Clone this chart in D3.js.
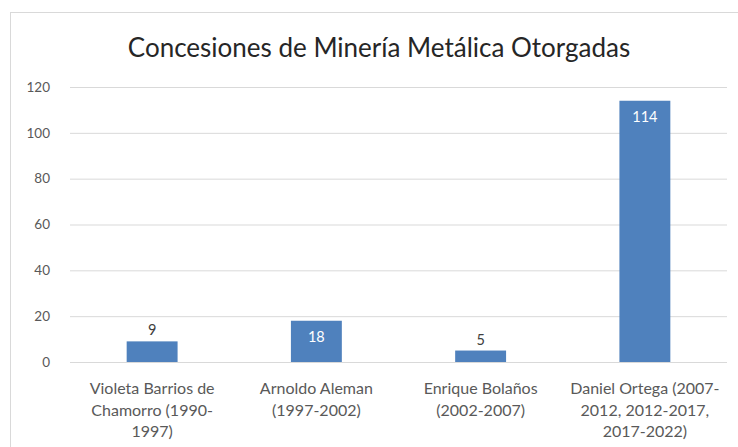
<!DOCTYPE html>
<html>
<head>
<meta charset="utf-8">
<script src="https://cdn.jsdelivr.net/npm/d3@7"></script>
<style>
  body { margin: 0; background: #fff; }
  text { font-family: Lato, "Open Sans", sans-serif; }
</style>
</head>
<body>
<div id="chart"></div>
<script>
// Chart data
const categories = [
    ["Violeta Barrios de", "Chamorro (1990-", "1997)"],
    ["Arnoldo Aleman", "(1997-2002)"],
    ["Enrique Bolaños", "(2002-2007)"],
    ["Daniel Ortega (2007-", "2012, 2012-2017,", "2017-2022)"]
];
const concesiones = [9, 18, 5, 114];
const yTicks = [0, 20, 40, 60, 80, 100, 120];
const title = "Concesiones de Minería Metálica Otorgadas";

const W = 738, H = 447;
const margin = { top: 87, right: 11, bottom: 85, left: 70 };
const width = W - margin.left - margin.right,
      height = H - margin.top - margin.bottom;

const svg = d3.select("#chart").append("svg")
    .attr("width", W)
    .attr("height", H);

// chart area border
svg.append("rect")
    .attr("x", 10.5).attr("y", 12.5)
    .attr("width", W + 20).attr("height", H + 20)
    .attr("fill", "none")
    .attr("stroke", "#d9d9d9");

svg.append("text")
    .attr("x", 379)
    .attr("y", 57)
    .attr("text-anchor", "middle")
    .style("font-size", "26px")
    .style("fill", "#262626")
    .text(title);

const g = svg.append("g")
    .attr("transform", `translate(${margin.left}, ${margin.top})`);

const xScale = d3.scaleBand()
    .domain(categories.map((c, i) => i))
    .range([0, width])
    .paddingInner(0.69)
    .paddingOuter(0.345);

const yScale = d3.scaleLinear()
    .domain([0, 120])
    .range([height, 0]);

// gridlines + y labels
const yAxis = d3.axisLeft(yScale).tickValues(yTicks).tickSize(-width).tickPadding(20);
g.append("g")
    .call(yAxis)
    .call(ax => ax.select(".domain").remove())
    .call(ax => ax.selectAll("line").attr("stroke", "#d9d9d9"))
    .call(ax => ax.selectAll("text")
        .style("font-size", "13.5px")
        .style("font-family", "Lato, sans-serif")
        .attr("fill", "#595959"));

// bars
g.selectAll(".bar")
    .data(concesiones)
    .enter().append("rect")
    .attr("class", "bar")
    .attr("x", (d, i) => xScale(i))
    .attr("y", d => yScale(d))
    .attr("width", xScale.bandwidth())
    .attr("height", d => height - yScale(d))
    .attr("fill", "#4f81bd");

// data labels: inside end when the bar is tall enough, else above
g.selectAll(".lbl")
    .data(concesiones)
    .enter().append("text")
    .attr("class", "lbl")
    .attr("x", (d, i) => xScale(i) + xScale.bandwidth() / 2)
    .attr("y", d => (height - yScale(d)) > 30 ? yScale(d) + 21 : yScale(d) - 6)
    .attr("text-anchor", "middle")
    .style("font-size", "14.5px")
    .attr("fill", d => (height - yScale(d)) > 30 ? "#ffffff" : "#404040")
    .text(d => d);

// category labels
const xLabels = g.selectAll(".cat")
    .data(categories)
    .enter().append("text")
    .attr("class", "cat")
    .attr("text-anchor", "middle")
    .attr("transform", (d, i) => `translate(${xScale(i) + xScale.bandwidth() / 2}, ${height + 32})`)
    .style("font-size", "16px")
    .attr("fill", "#595959");

xLabels.selectAll("tspan")
    .data(d => d)
    .enter().append("tspan")
    .attr("x", 0)
    .attr("dy", (d, j) => j === 0 ? 0 : 21.5)
    .text(d => d);
</script>
</body>
</html>
